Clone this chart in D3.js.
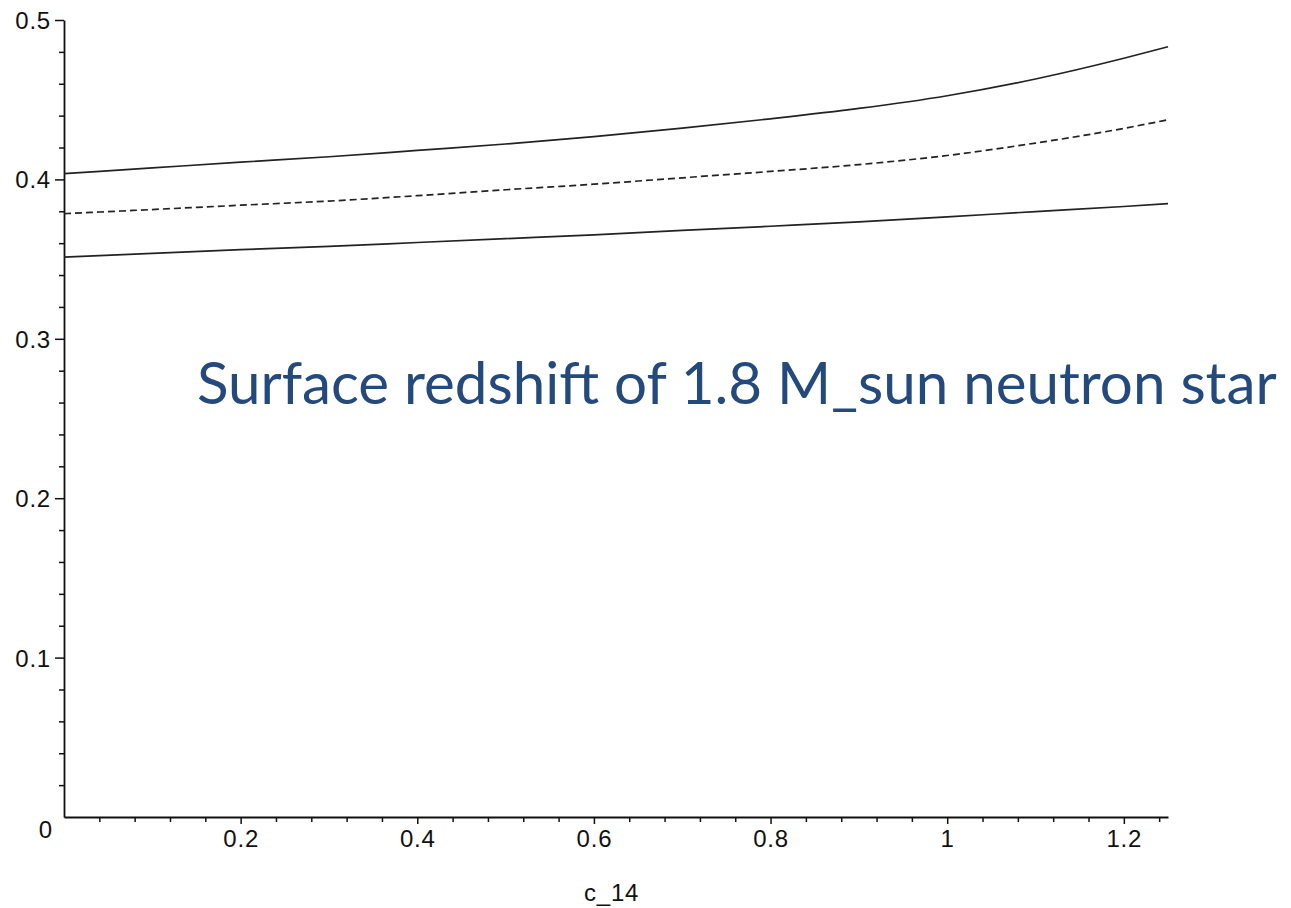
<!DOCTYPE html>
<html>
<head>
<meta charset="utf-8">
<script src="https://cdn.jsdelivr.net/npm/d3@7"></script>
<style>
  body { margin: 0; background: #fff; }
  .tick text { font-family: "Liberation Sans", Arial, sans-serif; }
</style>
</head>
<body>
<div id="chart"></div>
<script>
const cValues = [0, 0.1, 0.2, 0.3, 0.4, 0.5, 0.6, 0.7, 0.8, 0.9, 1.0, 1.1, 1.2, 1.25];
// upper solid curve
const upperZ = [0.4036, 0.4072, 0.4108, 0.4142, 0.4182, 0.4222, 0.4268, 0.4322, 0.4380, 0.4445, 0.4525, 0.4630, 0.4760, 0.4832];
// middle dashed curve
const middleZ = [0.3785, 0.3811, 0.3838, 0.3864, 0.3898, 0.3935, 0.3970, 0.4010, 0.4050, 0.4093, 0.4150, 0.4228, 0.4320, 0.4374];
// lower solid curve
const lowerZ = [0.3513, 0.3536, 0.3559, 0.3580, 0.3604, 0.3628, 0.3652, 0.3680, 0.3706, 0.3733, 0.3765, 0.3798, 0.3830, 0.3848];

const xTicks = [0.2, 0.4, 0.6, 0.8, 1, 1.2];
const yTicks = [0, 0.1, 0.2, 0.3, 0.4, 0.5];
const xLabel = "c_14";
const title = "Surface redshift of 1.8 M_sun neutron star";

const width = 1291;
const height = 908;

const svg = d3.select("#chart")
  .append("svg")
  .attr("width", width)
  .attr("height", height);

const xScale = d3.scaleLinear().domain([0, 1.25]).range([64, 1168]);
const yScale = d3.scaleLinear().domain([0, 0.5]).range([817, 20]);

// minor ticks
const xMinor = d3.range(0.04, 1.25, 0.04).filter(v => Math.abs(v / 0.2 - Math.round(v / 0.2)) > 0.01);
const yMinor = d3.range(0.02, 0.5, 0.02).filter(v => Math.abs(v / 0.1 - Math.round(v / 0.1)) > 0.01);

svg.append("g")
  .attr("transform", `translate(0, ${yScale(0)})`)
  .call(d3.axisBottom(xScale).tickValues(xMinor).tickSize(5).tickFormat(""))
  .call(g => g.select(".domain").remove())
  .selectAll("line").attr("stroke", "#111").attr("stroke-width", 1.5);

svg.append("g")
  .attr("transform", `translate(${xScale(0)}, 0)`)
  .call(d3.axisLeft(yScale).tickValues(yMinor).tickSize(5).tickFormat(""))
  .call(g => g.select(".domain").remove())
  .selectAll("line").attr("stroke", "#111").attr("stroke-width", 1.5);

// x axis
const xAxis = svg.append("g")
  .attr("transform", `translate(0, ${yScale(0)})`)
  .call(d3.axisBottom(xScale).tickValues(xTicks).tickSize(7).tickSizeOuter(0).tickPadding(6)
    .tickFormat(d => d3.format("~g")(d)));
xAxis.select(".domain").attr("stroke", "#111").attr("stroke-width", 1.8);
xAxis.selectAll("line").attr("stroke", "#111").attr("stroke-width", 1.5);
xAxis.selectAll("text").attr("font-size", 24).attr("letter-spacing", 0.8).attr("fill", "#111");

// y axis
const yAxis = svg.append("g")
  .attr("transform", `translate(${xScale(0)}, 0)`)
  .call(d3.axisLeft(yScale).tickValues(yTicks).tickSize(9).tickSizeOuter(0).tickPadding(4)
    .tickFormat(d => d3.format("~g")(d)));
yAxis.select(".domain").attr("stroke", "#111").attr("stroke-width", 1.8);
yAxis.selectAll("line").attr("stroke", "#111").attr("stroke-width", 1.5)
  .filter(d => d === 0).remove();
yAxis.selectAll("text").attr("font-size", 24).attr("letter-spacing", 0.8).attr("fill", "#111")
  .attr("dy", d => d === 0 ? "0.85em" : "0.35em")
  .attr("x", d => d === 0 ? -11 : -13);

// x axis label
svg.append("text")
  .attr("x", xScale(0.62))
  .attr("y", 901)
  .attr("text-anchor", "middle")
  .attr("font-family", "'Liberation Sans', Arial, sans-serif")
  .attr("font-size", 24)
  .attr("letter-spacing", 0.8)
  .attr("fill", "#111")
  .text(xLabel);

// curves
const line = d3.line()
  .x(d => xScale(d[0]))
  .y(d => yScale(d[1]))
  .curve(d3.curveMonotoneX);

const series = [
  { values: upperZ, dash: null },
  { values: middleZ, dash: "7,4" },
  { values: lowerZ, dash: null }
];

svg.append("g")
  .selectAll("path")
  .data(series)
  .join("path")
  .attr("d", s => line(cValues.map((c, i) => [c, s.values[i]])))
  .attr("fill", "none")
  .attr("stroke", "#222")
  .attr("stroke-width", 1.7)
  .attr("stroke-dasharray", s => s.dash);

// overlay title
const titleText = svg.append("text")
  .attr("x", 197)
  .attr("y", 404)
  .attr("font-family", "Lato, 'Open Sans', sans-serif")
  .attr("font-size", 52)
  .attr("fill", "#244a7d")
  .text(title);

// fit title to the width seen in the reference
const w = titleText.node().getComputedTextLength();
titleText.attr("font-size", 52 * 1080 / w);
</script>
</body>
</html>
